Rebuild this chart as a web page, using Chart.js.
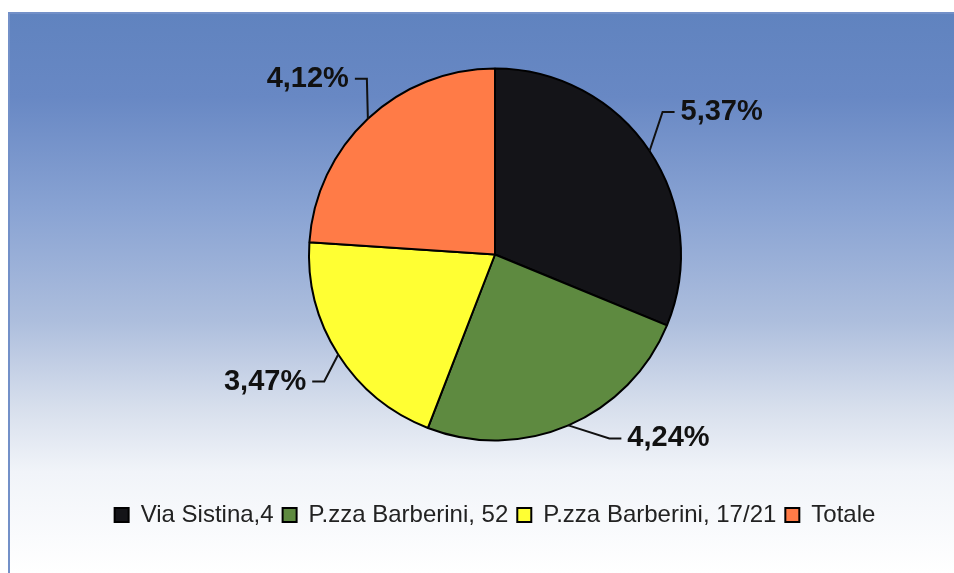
<!DOCTYPE html>
<html lang="it">

<head>
    <meta charset="UTF-8">
    <meta name="viewport" content="width=device-width, initial-scale=1.0">
    <script src="https://cdn.jsdelivr.net/npm/chart.js"></script>
    <style>
        html, body { margin: 0; padding: 0; background: #fff; }
        .wrap { width: 954px; height: 573px; position: relative; }
    </style>
</head>

<body>
    <div class="wrap">
        <canvas id="pieChart" width="954" height="573"></canvas>
    </div>

    <script>
        // data
        const sedi = ['Via Sistina,4', 'P.zza Barberini, 52', 'P.zza Barberini, 17/21', 'Totale'];
        const percentuali = [5.37, 4.24, 3.47, 4.12];
        const colori = ['#141418', '#5e8a40', '#ffff33', '#ff7b47'];

        // where each leader line bends, relative to the slice edge (style only)
        const leaderBend = [[13, -39], [41, 13], [-14, 27], [-1, -40]];

        const sfondo = {
            id: 'sfondo',
            beforeDraw(chart) {
                const ctx = chart.ctx;
                ctx.save();
                ctx.fillStyle = '#ffffff';
                ctx.fillRect(0, 0, chart.width, chart.height);
                const g = ctx.createLinearGradient(0, 13, 0, 573);
                g.addColorStop(0, '#6083bf');
                g.addColorStop(0.15, '#6888c4');
                g.addColorStop(0.35, '#89a3d3');
                g.addColorStop(0.55, '#adbedd');
                g.addColorStop(0.70, '#d6deec');
                g.addColorStop(0.82, '#f1f4f9');
                g.addColorStop(1, '#ffffff');
                ctx.fillStyle = g;
                ctx.fillRect(10, 13, chart.width - 10, chart.height - 13);
                ctx.strokeStyle = '#7390c8';
                ctx.lineWidth = 2;
                ctx.beginPath();
                ctx.moveTo(9, chart.height);
                ctx.lineTo(9, 13);
                ctx.lineTo(chart.width, 13);
                ctx.stroke();
                ctx.restore();
            }
        };

        const etichette = {
            id: 'etichette',
            afterDatasetsDraw(chart) {
                const ctx = chart.ctx;
                const meta = chart.getDatasetMeta(0);
                ctx.save();
                ctx.strokeStyle = '#111';
                ctx.lineWidth = 2;
                ctx.fillStyle = '#111';
                ctx.font = 'bold 29px "Liberation Sans", Arial, sans-serif';
                ctx.textBaseline = 'middle';
                meta.data.forEach((arc, i) => {
                    const p = arc.getProps(['x', 'y', 'startAngle', 'endAngle', 'outerRadius'], true);
                    const mid = (p.startAngle + p.endAngle) / 2;
                    const ex = p.x + Math.cos(mid) * p.outerRadius;
                    const ey = p.y + Math.sin(mid) * p.outerRadius;
                    const bx = ex + leaderBend[i][0];
                    const by = ey + leaderBend[i][1];
                    const side = bx > p.x ? 1 : -1;
                    const tx = bx + side * 12;
                    ctx.beginPath();
                    ctx.moveTo(ex, ey);
                    ctx.lineTo(bx, by);
                    ctx.lineTo(tx, by);
                    ctx.stroke();
                    ctx.textAlign = side > 0 ? 'left' : 'right';
                    const txt = percentuali[i].toFixed(2).replace('.', ',') + '%';
                    ctx.fillText(txt, tx + side * 6, by);
                });
                ctx.restore();
            }
        };

        new Chart(document.getElementById('pieChart'), {
            type: 'pie',
            data: {
                labels: sedi,
                datasets: [{
                    data: percentuali,
                    backgroundColor: colori,
                    borderColor: '#000',
                    borderWidth: 2,
                }]
            },
            options: {
                responsive: false,
                animation: false,
                radius: 186,
                layout: {
                    padding: { left: 60, right: 24, top: 15, bottom: 36 }
                },
                plugins: {
                    tooltip: { enabled: false },
                    legend: {
                        position: 'bottom',
                        labels: {
                            color: '#222',
                            boxWidth: 14,
                            boxHeight: 14,
                            padding: 9,
                            font: { family: "'Liberation Sans', Arial, sans-serif", size: 24 }
                        }
                    }
                }
            },
            plugins: [sfondo, etichette]
        });
    </script>
</body>

</html>
